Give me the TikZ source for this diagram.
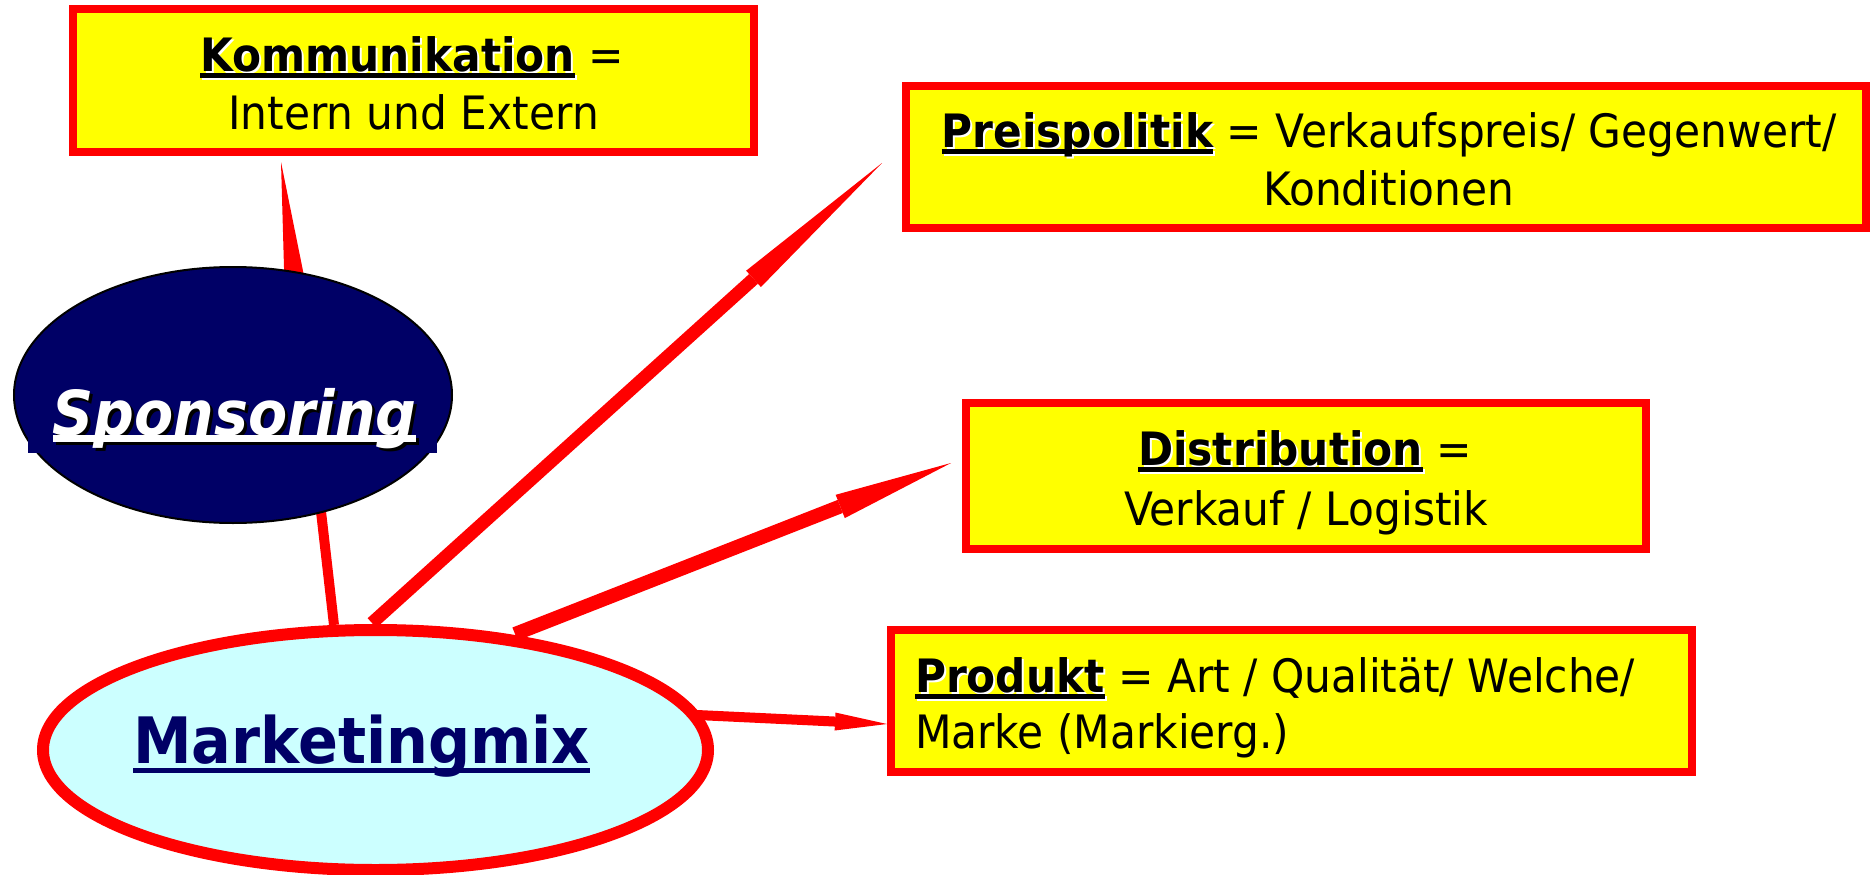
\documentclass[tikz,border=0pt]{standalone}
\usepackage{fontspec}
\setmainfont{DejaVu Sans}[FakeStretch=0.92]
\usetikzlibrary{shapes.geometric,arrows.meta}
\definecolor{boxyellow}{HTML}{FFFF00}
\definecolor{boxred}{HTML}{FF0000}
\definecolor{navyblue}{HTML}{000066}
\definecolor{palecyan}{HTML}{CCFFFF}
\newsavebox\ulbx
% #1 depth of underline bottom below baseline, #2 thickness, #3 text
\newcommand\ulbox[3]{\sbox\ulbx{#3}\rlap{\rule[-#1pt]{\wd\ulbx}{#2pt}}\usebox\ulbx}
% #1 offset, #2 shadow colour, #3 text colour, #4 text
\newcommand\shtxt[4]{\leavevmode\rlap{\hspace{#1pt}\raisebox{-#1pt}{\color{#2}#4}}{\color{#3}#4}}
\begin{document}
\begin{tikzpicture}[x=1pt,y=-1pt,
  every node/.style={inner sep=0pt, outer sep=0pt},
  infobox/.style={draw=boxred, fill=boxyellow, line width=8pt, rectangle},
  txt/.style={font=\fontsize{46}{58}\selectfont, anchor=base},
  link/.style={draw=boxred, line width=#1}]
\useasboundingbox (0,0) rectangle (1872,875);

% boxes
\node[infobox, minimum width=681pt, minimum height=143pt] (kom) at (413.5,80.5) {};
\node[txt] (komA) at (412,71) {\shtxt{2}{white}{black}{\ulbox{7}{5}{\bfseries Kommunikation}} =};
\node[txt] (komB) at (413.5,129) {Intern und Extern};

\node[infobox, minimum width=960pt, minimum height=142pt] (preis) at (1386,157) {};
\node[txt] (preisA) at (1389,147) {\shtxt{2}{white}{black}{\ulbox{7}{5}{\bfseries Preispolitik}} = Verkaufspreis/ Gegenwert/};
\node[txt] (preisB) at (1389,205) {Konditionen};

\node[infobox, minimum width=680pt, minimum height=146pt] (dist) at (1306,476) {};
\node[txt] (distA) at (1305,465) {\shtxt{2}{white}{black}{\ulbox{7}{5}{\bfseries Distribution}} =};
\node[txt] (distB) at (1306,525) {Verkauf / Logistik};

\node[infobox, minimum width=801pt, minimum height=142pt] (prod) at (1291.5,701) {};
\node[txt, anchor=base west] (prodA) at (915,692) {\shtxt{2}{white}{black}{\ulbox{7}{5}{\bfseries Produkt}} = Art / Qualität/ Welche/};
\node[txt, anchor=base west] (prodB) at (915,748) {Marke (Markierg.)};

% Marketingmix ellipse
\node[ellipse, draw=boxred, fill=palecyan, line width=12pt,
      minimum width=665pt, minimum height=240pt] (mm) at (375.5,750) {};

% connector end points
\coordinate (mmK) at (334,625);
\coordinate (mmP) at (372,623);
\coordinate (mmD) at (515,634);
\coordinate (mmR) at (697,715);
\coordinate (kK) at (281,162);
\coordinate (pP) at (882,163);
\coordinate (dD) at (951,463);
\coordinate (rR) at (887,724);

\draw[link=10pt, -{Triangle[length=140pt, width=24pt, line width=0pt]}] (mmK) -- (kK);
\draw[link=13pt, -{Triangle[length=173pt, width=22pt, line width=0pt]}] (mmP) -- (pP);
\draw[link=14pt, -{Triangle[length=119pt, width=25pt, line width=0pt]}] (mmD) -- (dD);
\draw[link=10pt, -{Triangle[length=52pt, width=18pt, line width=0pt]}] (mmR) -- (rR);

% Sponsoring ellipse
\node[ellipse, draw=black, fill=navyblue, line width=2pt,
      minimum width=438pt, minimum height=256pt] (spon) at (233,395) {};
\fill[navyblue] (28,400) rectangle (437,453);
\node[anchor=base, font=\fontsize{62}{70}\selectfont] (sponT) at (234.5,435)
  {\shtxt{3}{black}{white}{\ulbox{7}{7}{\bfseries\itshape Sponsoring}}};

% Marketingmix label
\node[anchor=base, font=\fontsize{64}{70}\selectfont\bfseries, text=navyblue] (mmT) at (361.5,763)
  {\ulbox{10}{5}{Marketingmix}};
\end{tikzpicture}
\end{document}
